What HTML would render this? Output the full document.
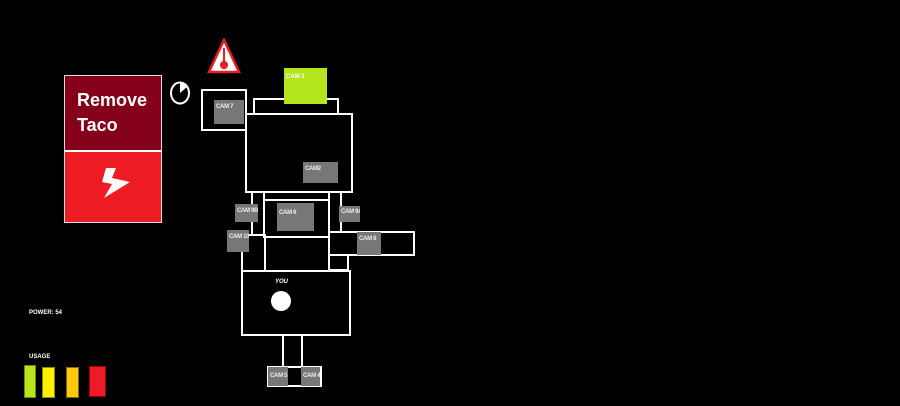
<!DOCTYPE html>
<html><head><meta charset="utf-8"><style>
body{margin:0;width:900px;height:406px;background:#000;overflow:hidden;position:relative;font-family:"Liberation Sans",sans-serif}
div{position:absolute;box-sizing:border-box}
.b{border:2px solid #fff}
.g{background:#777;color:#eee;font-size:6px;font-weight:bold;padding:4px 0 0 2px;white-space:nowrap;letter-spacing:-0.3px;overflow:hidden}
.t{color:#fff;font-size:6px;font-weight:bold;white-space:nowrap}
</style></head><body>
<!-- panel -->
<div style="left:64px;top:75px;width:98px;height:148px;border:1px solid #ddd;background:#fff"></div>
<div style="left:65px;top:76px;width:96px;height:74px;background:#85001a;color:#fff;font-weight:bold;font-size:18px;line-height:25px;padding:12px 0 0 12px">Remove<br>Taco</div>
<div style="left:65px;top:152px;width:96px;height:70px;background:#ed1c24"></div>
<svg style="position:absolute;left:100px;top:168px" width="32" height="32" viewBox="0 0 32 32"><polygon points="6,0 16,0 12,10 30,14 4,30 12,16 2,14" fill="#fff"/></svg>
<!-- clock -->
<svg style="position:absolute;left:169px;top:80px" width="24" height="26" viewBox="0 0 24 26"><ellipse cx="11" cy="13" rx="9" ry="10.5" fill="none" stroke="#fff" stroke-width="2"/><path d="M11 13 L11 3 A9 10 0 0 1 18 7 Z" fill="#fff"/></svg>
<!-- warning -->
<svg style="position:absolute;left:207px;top:38px" width="34" height="36" viewBox="0 0 34 36"><polygon points="17,2 32,34 2,34" fill="#fff" stroke="#ed1c24" stroke-width="2.5"/><line x1="17" y1="10" x2="17" y2="26" stroke="#ed1c24" stroke-width="2"/><circle cx="17" cy="27" r="4" fill="#ed1c24"/></svg>
<!-- map -->
<div class="b" style="left:253px;top:98px;width:86px;height:17px"></div>
<div style="left:284px;top:68px;width:43px;height:36px;background:#b5e61d;color:#fff;font-size:6px;font-weight:bold;padding:6px 0 0 2px">CAM 1</div>
<div class="b" style="left:201px;top:89px;width:46px;height:42px"></div>
<div class="g" style="left:214px;top:100px;width:30px;height:24px">CAM 7</div>
<div class="b" style="left:245px;top:113px;width:108px;height:80px;background:#000"></div>
<div class="g" style="left:303px;top:162px;width:35px;height:21px">CAM2</div>
<div class="b" style="left:251px;top:191px;width:14px;height:45px"></div>
<div class="b" style="left:263px;top:191px;width:67px;height:10px"></div>
<div class="b" style="left:263px;top:199px;width:67px;height:39px"></div>
<div class="b" style="left:328px;top:191px;width:14px;height:42px"></div>
<div class="g" style="left:235px;top:204px;width:23px;height:18px">CAM 9B</div>
<div class="g" style="left:277px;top:203px;width:37px;height:28px;padding-top:7px">CAM 6</div>
<div class="g" style="left:339px;top:206px;width:21px;height:16px;padding-top:3px">CAM 9A</div>
<div class="b" style="left:241px;top:234px;width:25px;height:38px"></div>
<div class="b" style="left:264px;top:236px;width:66px;height:36px"></div>
<div class="b" style="left:328px;top:231px;width:87px;height:25px"></div>
<div class="b" style="left:328px;top:254px;width:21px;height:17px"></div>
<div class="g" style="left:227px;top:230px;width:22px;height:22px">CAM 10</div>
<div class="g" style="left:357px;top:232px;width:24px;height:23px">CAM 8</div>
<div class="b" style="left:241px;top:270px;width:110px;height:66px;background:#000"></div>
<div class="t" style="left:275px;top:279px;font-style:italic">YOU</div>
<div style="left:271px;top:291px;width:20px;height:20px;border-radius:50%;background:#fff"></div>
<div class="b" style="left:282px;top:334px;width:21px;height:34px"></div>
<div class="b" style="left:267px;top:366px;width:55px;height:21px"></div>
<div class="g" style="left:268px;top:367px;width:20px;height:19px;padding-top:6px">CAM 5</div>
<div class="g" style="left:301px;top:367px;width:19px;height:19px;padding-top:6px">CAM 4</div>
<!-- power -->
<div class="t" style="left:29px;top:310px">POWER: 54</div>
<div class="t" style="left:29px;top:354px">USAGE</div>
<div style="left:24px;top:365px;width:12px;height:33px;background:#b5e61d;border:1px solid #6a8a00"></div>
<div style="left:42px;top:367px;width:13px;height:31px;background:#fff200;border:1px solid #8a8a00"></div>
<div style="left:66px;top:367px;width:13px;height:31px;background:#ffc90e;border:1px solid #8a6a00"></div>
<div style="left:89px;top:366px;width:17px;height:31px;background:#ed1c24;border:1px solid #900"></div>
</body></html>
